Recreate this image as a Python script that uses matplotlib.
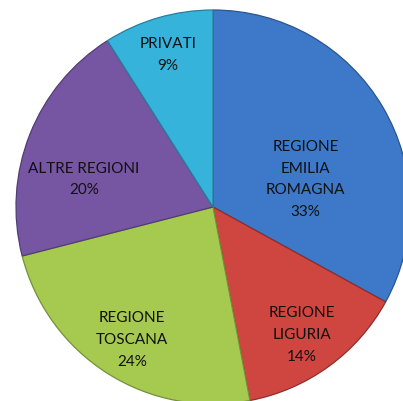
import matplotlib
matplotlib.use("Agg")
import matplotlib.pyplot as plt

# Data
categories = ["REGIONE\nEMILIA\nROMAGNA", "REGIONE\nLIGURIA", "REGIONE\nTOSCANA", "ALTRE REGIONI", "PRIVATI"]
values = [33, 14, 24, 20, 9]

# Style / layout
colors = ["#3d79c8", "#cf4641", "#a6c94f", "#7656a3", "#36b3da"]
edges = ["#2a5590", "#8e2e2b", "#74913a", "#523c73", "#25809e"]
label_xy = [(0.47, 0.14), (0.45, -0.65), (-0.41, -0.675), (-0.655, 0.14), (-0.228, 0.77)]

W, H = 403, 401
cx, cy, R = 213, 207, 197

fig = plt.figure(figsize=(W / 100, H / 100), dpi=100)
ax = fig.add_axes([0, 0, 1, 1])

wedges, _ = ax.pie(values, startangle=90, counterclock=False, colors=colors,
                   radius=1.0, center=(0, 0), frame=True,
                   wedgeprops=dict(linewidth=0.9))
ax.set_xlim(-cx / R, (W - cx) / R)
ax.set_ylim(-(H - cy) / R, cy / R)
ax.set_aspect("auto")
ax.axis("off")
for w, ec in zip(wedges, edges):
    w.set_edgecolor(ec)

for cat, v, (x, y) in zip(categories, values, label_xy):
    ax.text(x, y, f"{cat}\n{v}%", ha="center", va="center", fontsize=11,
            family="Lato", color="#111111", linespacing=1.7)

fig.savefig("out.png", dpi=100)
